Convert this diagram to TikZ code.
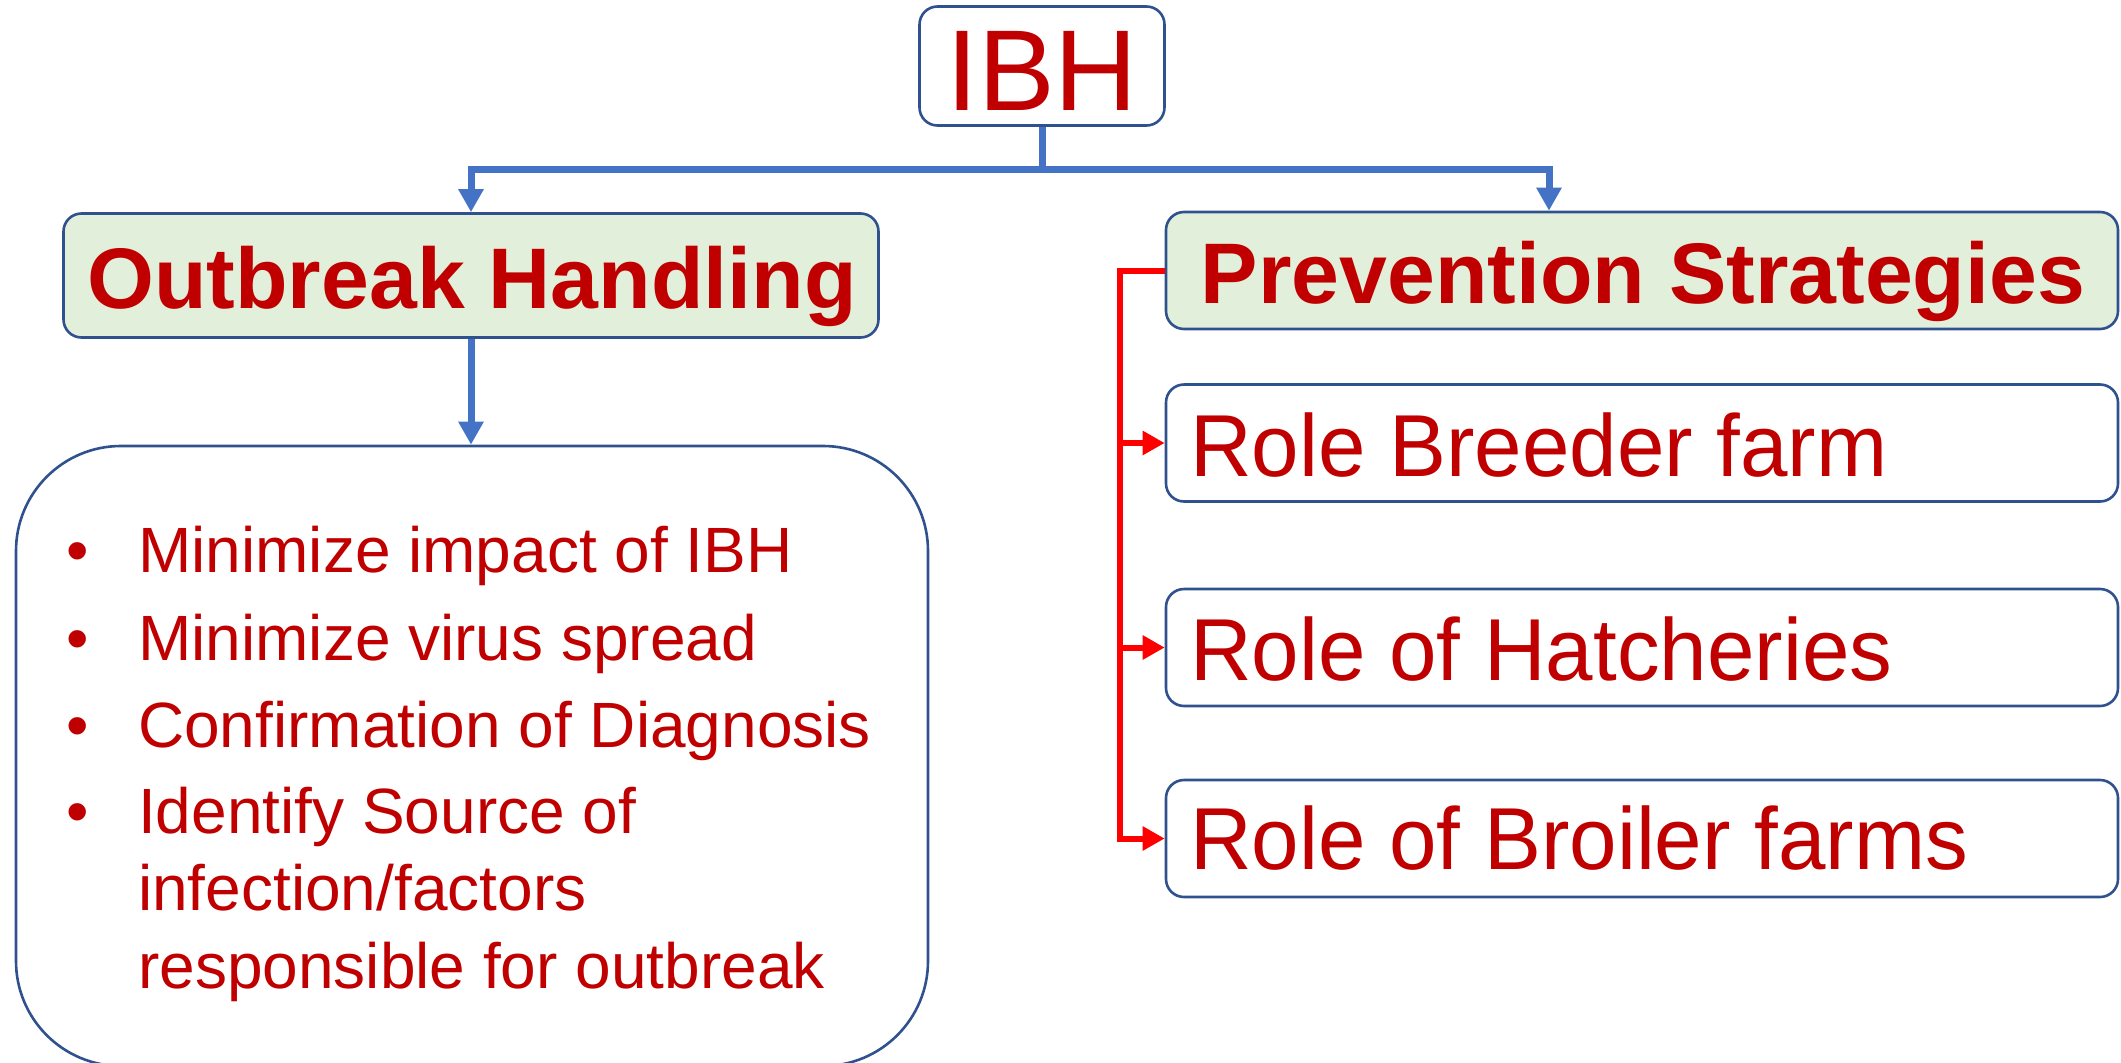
\documentclass[tikz,border=0pt]{standalone}
\usepackage{fontspec}
\setmainfont{Liberation Sans}
\newfontfamily\rolefont[FakeStretch=0.97]{Liberation Sans}
\usetikzlibrary{arrows.meta}
\definecolor{txtred}{HTML}{C00000}
\definecolor{bord}{HTML}{2F528F}
\definecolor{headfill}{HTML}{E2EFDA}
\definecolor{conblue}{HTML}{4472C4}
\definecolor{conred}{HTML}{FF0000}
\begin{document}
\begin{tikzpicture}[x=1pt,y=-1pt,
  box/.style={draw=bord, line width=2.6pt, rounded corners=18pt, inner sep=0pt, fill=white},
  headbox/.style={box, fill=headfill},
  rolebox/.style={box, minimum width=952pt, minimum height=117pt},
  bluearrow/.style={draw=conblue, line width=7pt, line join=miter, -{Triangle[width=24pt,length=23pt]}},
  redarrow/.style={draw=conred, line width=6pt, line join=miter, -{Triangle[width=23pt,length=22pt]}},
  txt/.style={text=txtred, inner sep=0pt, anchor=base west},
  bigtxt/.style={txt, anchor=base, font=\fontsize{115}{115}\selectfont},
  headtxt/.style={txt, anchor=base, font=\bfseries\fontsize{86}{86}\selectfont},
  roletxt/.style={txt, font=\rolefont\fontsize{88}{88}\selectfont},
  listtxt/.style={txt, font=\fontsize{64}{64}\selectfont},
  bullettxt/.style={txt, anchor=base, font=\fontsize{64}{64}\selectfont},
]
\useasboundingbox (0,0) rectangle (2121,1063);

% boxes
\node[box, minimum width=245pt, minimum height=119pt] (ibh) at (1042,66) {};
\node[headbox, minimum width=815pt, minimum height=124pt] (outb) at (471,275.5) {};
\node[headbox, minimum width=952pt, minimum height=117pt] (prev) at (1642,270.5) {};
\node[rolebox] (breed) at (1642,443) {};
\node[rolebox] (hatch) at (1642,647.5) {};
\node[rolebox] (broil) at (1642,838.5) {};
\node[box, rounded corners=105pt, minimum width=912pt, minimum height=620pt] (list) at (472,756) {};

% texts
\node[bigtxt] (ibhT) at (1042,110) {IBH};
\node[headtxt] (outbT) at (472,308) {Outbreak Handling};
\node[headtxt] (prevT) at (1643,303) {Prevention Strategies};
\node[roletxt] (breedT) at (1190,476.5) {Role Breeder farm};
\node[roletxt] (hatchT) at (1190,680) {Role of Hatcheries};
\node[roletxt] (broilT) at (1190,869) {Role of Broiler farms};

\node[bullettxt] (b1) at (78,572) {•};
\node[bullettxt] (b2) at (78,660) {•};
\node[bullettxt] (b3) at (78,747) {•};
\node[bullettxt] (b4) at (78,833) {•};
\node[listtxt] (l1) at (138,572) {Minimize impact of IBH};
\node[listtxt] (l2) at (138,660) {Minimize virus spread};
\node[listtxt] (l3) at (138,747) {Confirmation of Diagnosis};
\node[listtxt] (l4) at (138,833) {Identify Source of};
\node[listtxt] (l5) at (138,910) {infection/factors};
\node[listtxt] (l6) at (138,988) {responsible for outbreak};

% blue connectors
\coordinate (jn) at (1042,169);
\draw[bluearrow] (ibh.south) -- (jn) -| (outb.north);
\draw[bluearrow] (jn) -| ([xshift=-93pt]prev.north);
\draw[bluearrow] (outb.south) -- (outb.south |- list.north);

% red connectors
\coordinate (rx) at (1120,0);
\draw[redarrow] (prev.west) -- (prev.west -| rx) |- (broil.west);
\draw[redarrow] (breed.west -| rx) -- (breed.west);
\draw[redarrow] (hatch.west -| rx) -- (hatch.west);
\end{tikzpicture}
\end{document}
